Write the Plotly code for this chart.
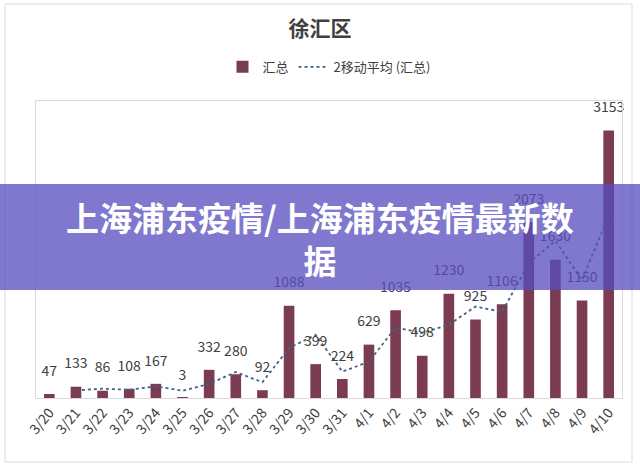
import plotly.graph_objects as go

dates = ["3/20", "3/21", "3/22", "3/23", "3/24", "3/25", "3/26", "3/27", "3/28", "3/29", "3/30",
         "3/31", "4/1", "4/2", "4/3", "4/4", "4/5", "4/6", "4/7", "4/8", "4/9", "4/10"]
totals = [47, 133, 86, 108, 167, 3, 332, 280, 92, 1088, 399,
          224, 629, 1035, 498, 1230, 925, 1106, 2073, 1630, 1150, 3153]

# 2-period moving average (first point undefined)
mov_avg = [None] + [(totals[i - 1] + totals[i]) / 2 for i in range(1, len(totals))]

title_text = "徐汇区"
bar_name = "汇总"
line_name = "2移动平均 (汇总)"
banner_text = "上海浦东疫情/上海浦东疫情最新数<br>据"

FONT = "Noto Sans CJK SC"

fig = go.Figure()
fig.add_trace(go.Bar(
    x=dates, y=totals, name=bar_name,
    marker=dict(color="#7b3c52", line=dict(width=0)),
))
fig.add_trace(go.Scatter(
    x=dates, y=mov_avg, name=line_name, mode="lines",
    line=dict(color="#3f6485", width=1.8, dash="dot"),
))
# data labels above the bars
fig.add_trace(go.Scatter(
    x=dates, y=totals, mode="markers+text", showlegend=False, hoverinfo="skip",
    marker=dict(size=22, opacity=0),
    text=[str(v) for v in totals], textposition="top center",
    textfont=dict(size=14, color="#404040", family=FONT),
    cliponaxis=False,
))

fig.update_layout(
    width=640, height=473,
    margin=dict(l=36, r=18, t=101, b=75),
    paper_bgcolor="white", plot_bgcolor="white",
    font=dict(family=FONT, color="#404040"),
    title=dict(text="<b>" + title_text + "</b>", x=0.5, xanchor="center", y=0.94, yanchor="middle",
               font=dict(size=21, color="#404040", family=FONT)),
    legend=dict(orientation="h", x=0.5, xanchor="center", y=1.115, yanchor="middle",
                font=dict(size=13, color="#404040", family=FONT), bgcolor="rgba(0,0,0,0)"),
    bargap=0.6,
    showlegend=True,
)
fig.update_xaxes(range=[-0.5, len(dates) - 0.5], autorange=False,
                 tickangle=-50, tickfont=dict(size=14, color="#404040", family=FONT),
                 showline=True, linecolor="#d9d9d9", linewidth=1, mirror=True,
                 showgrid=False, ticks="")
fig.update_yaxes(range=[0, 3500], showticklabels=False, showgrid=False, zeroline=False,
                 showline=True, linecolor="#d9d9d9", linewidth=1, mirror=True, ticks="")

# outer chart frame
fig.add_shape(type="rect", xref="paper", yref="paper",
              x0=-31 / 586, x1=(632 - 36) / 586, y0=-(462 - 398) / 297, y1=(398 - 4) / 297,
              line=dict(color="#dcdcdc", width=1), fillcolor="rgba(0,0,0,0)", layer="below")

# overlay banner
fig.add_shape(type="rect", xref="paper", yref="paper",
              x0=-40 / 586, x1=(640 - 36 + 5) / 586,
              y0=(398 - 290) / 297, y1=(398 - 184) / 297,
              line=dict(width=0), fillcolor="rgba(88,78,190,0.76)", layer="above")
fig.add_annotation(text="<b>" + banner_text + "</b>", xref="paper", yref="paper",
                   x=(320 - 36) / 586, y=(398 - 238) / 297, showarrow=False,
                   xanchor="center", yanchor="middle",
                   font=dict(size=33, color="white", family=FONT))

fig.write_html("out.html")
